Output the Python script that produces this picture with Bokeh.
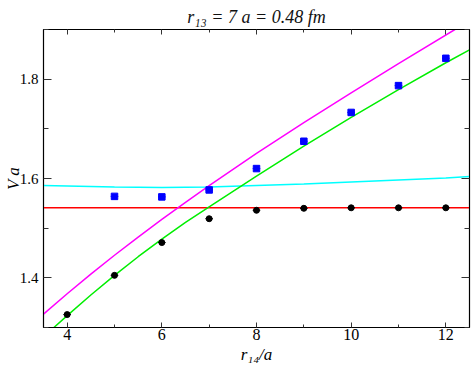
from bokeh.plotting import figure
from bokeh.models import LinearAxis, FixedTicker, Range1d, Title
from bokeh.embed import file_html
from bokeh.resources import INLINE

# ---- data ----
r14_black = [4, 5, 6, 7, 8, 9, 10, 11, 12]
v_black = [1.326, 1.405, 1.471, 1.519, 1.536, 1.540, 1.541, 1.541, 1.541]

r14_blue = [5, 6, 7, 8, 9, 10, 11, 12]
v_blue = [1.564, 1.563, 1.577, 1.620, 1.675, 1.733, 1.787, 1.842]

magenta_x = [3.5, 4.0, 4.5, 5.0, 5.5, 6.0, 6.5, 7.0, 8.0, 9.0, 10.0, 11.0, 12.2]
magenta_y = [1.327, 1.368, 1.4075, 1.4455, 1.482, 1.5175, 1.552, 1.5855, 1.6505,
             1.7125, 1.7725, 1.8315, 1.9005]

green_x = [3.72, 4.0, 4.5, 5.0, 5.5, 6.0, 6.5, 7.0, 8.0, 9.0, 10.0, 11.0, 12.0, 12.5]
green_y = [1.300, 1.324, 1.3655, 1.405, 1.4425, 1.478, 1.5115, 1.543, 1.605,
           1.665, 1.723, 1.779, 1.833, 1.859]

cyan_x = [3.5, 4.0, 5.0, 6.0, 7.0, 8.0, 9.0, 10.0, 11.0, 12.0, 12.5]
cyan_y = [1.586, 1.585, 1.583, 1.582, 1.583, 1.586, 1.589, 1.593, 1.597, 1.601, 1.604]

red_x = [3.5, 12.5]
red_y = [1.541, 1.541]

x_major = [4, 6, 8, 10, 12]
x_minor = [5, 7, 9, 11]
y_major = [1.4, 1.6, 1.8]
y_minor = [1.3, 1.5, 1.7, 1.9]
y_tick_labels = {1.4: "1.4", 1.6: "1.6", 1.8: "1.8"}

title_text = "r\u2081\u2083 = 7 a = 0.48 fm"
x_label = "r\u2081\u2084/a"
y_label = "V a"

SERIF = "Liberation Serif"

p = figure(width=471, height=368, output_backend="svg", toolbar_location=None,
           x_range=Range1d(3.5, 12.5), y_range=Range1d(1.3, 1.9),
           min_border_left=43, min_border_right=2, min_border_top=29,
           min_border_bottom=41, x_axis_location=None, y_axis_location=None)
p.grid.visible = False
p.outline_line_color = "black"
p.outline_line_width = 1.2
p.background_fill_color = "white"
p.border_fill_color = "white"

p.title = Title(text=title_text, align="center", text_font=SERIF,
                text_font_style="italic", text_font_size="18px",
                text_color="#111111", standoff=6, offset=0)

xt = FixedTicker(ticks=x_major, minor_ticks=x_minor)
yt = FixedTicker(ticks=y_major, minor_ticks=y_minor)


def style(ax, tin, tmin, size=None):
    ax.major_tick_in = tin
    ax.major_tick_out = 0
    ax.minor_tick_in = tmin
    ax.minor_tick_out = 0
    ax.axis_line_color = "black"
    ax.major_tick_line_color = "#333333"
    ax.minor_tick_line_color = "#333333"
    if size:
        ax.major_label_text_font = SERIF
        ax.major_label_text_font_size = size
        ax.major_label_text_color = "black"
        ax.axis_label_text_font = SERIF
        ax.axis_label_text_font_style = "italic"
        ax.axis_label_text_font_size = "17px"
        ax.axis_label_text_color = "black"
    else:
        ax.major_label_text_font_size = "0px"
        ax.major_label_standoff = 0


bx = LinearAxis(ticker=xt, axis_label=x_label)
style(bx, 5, 3, "16px")
bx.major_label_standoff = 1
bx.axis_label_standoff = 2
ly = LinearAxis(ticker=yt, major_label_overrides=y_tick_labels, axis_label=y_label)
style(ly, 8, 5, "15px")
ly.major_label_standoff = 5
ly.axis_label_standoff = -6
tx = LinearAxis(ticker=xt, major_label_overrides={t: "" for t in x_major})
style(tx, 5, 3)
ry = LinearAxis(ticker=yt, major_label_overrides={t: "" for t in y_major})
style(ry, 8, 5)
p.add_layout(bx, "below")
p.add_layout(ly, "left")
p.add_layout(tx, "above")
p.add_layout(ry, "right")

# curves
p.line(cyan_x, cyan_y, line_color="#00ffff", line_width=1.5)
p.line(red_x, red_y, line_color="#ff0000", line_width=1.5)
p.line(magenta_x, magenta_y, line_color="#ff00ff", line_width=1.5)
p.line(green_x, green_y, line_color="#00ee00", line_width=1.5)

# points with small horizontal whiskers
hw = 0.08
p.segment([x - hw for x in r14_blue], v_blue, [x + hw for x in r14_blue], v_blue,
          line_color="#0000ff", line_width=1)
p.scatter(r14_blue, v_blue, marker="square", size=6.5, fill_color="#0000ff",
          line_color="#0000ff")
p.segment([x - hw for x in r14_black], v_black, [x + hw for x in r14_black], v_black,
          line_color="black", line_width=1)
p.scatter(r14_black, v_black, marker="circle", size=6, fill_color="black",
          line_color="black")

open("out.html", "w").write(file_html(p, INLINE))
